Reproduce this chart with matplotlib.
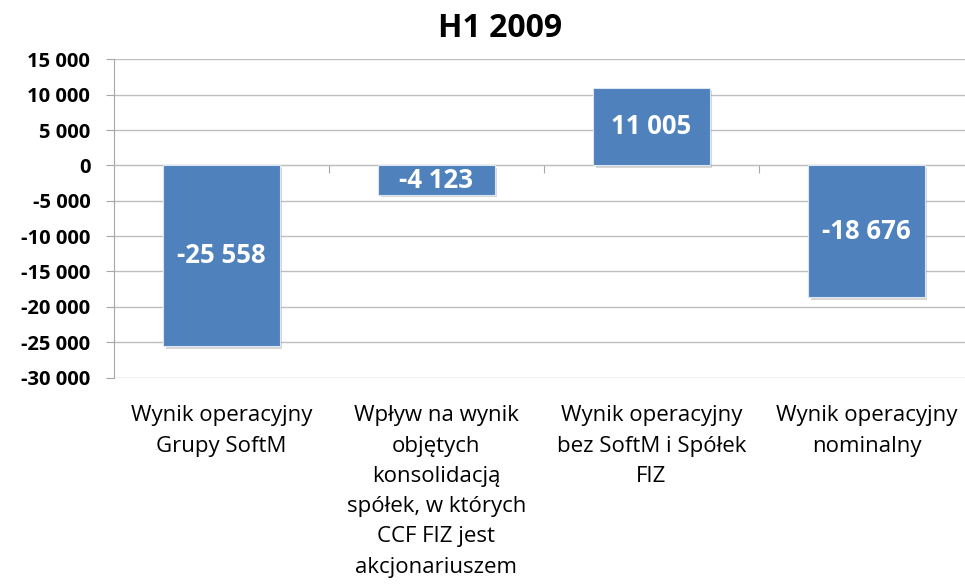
import matplotlib
matplotlib.use("Agg")
import matplotlib.pyplot as plt
import matplotlib.patheffects as pe
from matplotlib.ticker import FuncFormatter, FixedLocator
from matplotlib.transforms import blended_transform_factory

# data
categories = [
    "Wynik operacyjny\nGrupy SoftM",
    "Wpływ na wynik\nobjętych\nkonsolidacją\nspółek, w których\nCCF FIZ jest\nakcjonariuszem",
    "Wynik operacyjny\nbez SoftM i Spółek\nFIZ",
    "Wynik operacyjny\nnominalny",
]
values = [-25558, -4123, 11005, -18676]
value_labels = ["-25 558", "-4 123", "11 005", "-18 676"]
yticks = [15000, 10000, 5000, 0, -5000, -10000, -15000, -20000, -25000, -30000]

bar_color = "#4F81BD"
grid_color = "#BEBEBE"
font = "Open Sans"

fig = plt.figure(figsize=(9.65, 5.86), dpi=100)
ax = fig.add_axes([0.1181, 0.3558, 0.8912, 0.5427])

x = list(range(len(values)))
bars = ax.bar(x, values, width=0.54, color=bar_color, edgecolor="#DCE6F2",
              linewidth=0.8, zorder=3)
for b in bars:
    b.set_path_effects([pe.SimplePatchShadow(offset=(2, -2), shadow_rgbFace="#808080",
                                             alpha=0.3), pe.Normal()])

# value labels inside bars
for xi, v, lab in zip(x, values, value_labels):
    ax.text(xi, v / 2, lab, ha="center", va="center", color="white",
            fontsize=18.5, fontweight="bold", family=font, zorder=4)

ax.set_xlim(-0.5, 3.5)
ax.set_ylim(-30000, 15000)
ax.set_yticks(yticks)
ax.yaxis.set_major_formatter(FuncFormatter(lambda v, p: f"{int(v):,}".replace(",", " ")))
ax.grid(axis="y", color=grid_color, linewidth=1.0, zorder=0)
ax.set_axisbelow(True)

for s in ["top", "right"]:
    ax.spines[s].set_visible(False)
ax.spines["left"].set_color("#A6A6A6")
ax.spines["bottom"].set_position(("data", 0))
ax.spines["bottom"].set_color(grid_color)

ax.tick_params(axis="y", length=6, color="#A6A6A6", pad=11)
for t in ax.get_yticklabels():
    t.set_fontweight("bold")
    t.set_fontsize(14.5)
    t.set_family(font)

ax.xaxis.set_major_locator(FixedLocator([0.5, 1.5, 2.5]))
ax.tick_params(axis="x", length=6, color="#A6A6A6", labelbottom=False)

# category labels below the plot area
trans = blended_transform_factory(ax.transData, ax.transAxes)
for xi, cat in zip(x, categories):
    ax.annotate(cat, xy=(xi, 0), xycoords=trans, xytext=(0, -20),
                textcoords="offset points", ha="center", va="top",
                fontsize=16, fontweight="medium", family=font, linespacing=1.58)

fig.text(0.518, 0.952, "H1 2009", ha="center", va="center",
         fontsize=23, fontweight="bold", family=font)

fig.savefig("out.png", dpi=100)
